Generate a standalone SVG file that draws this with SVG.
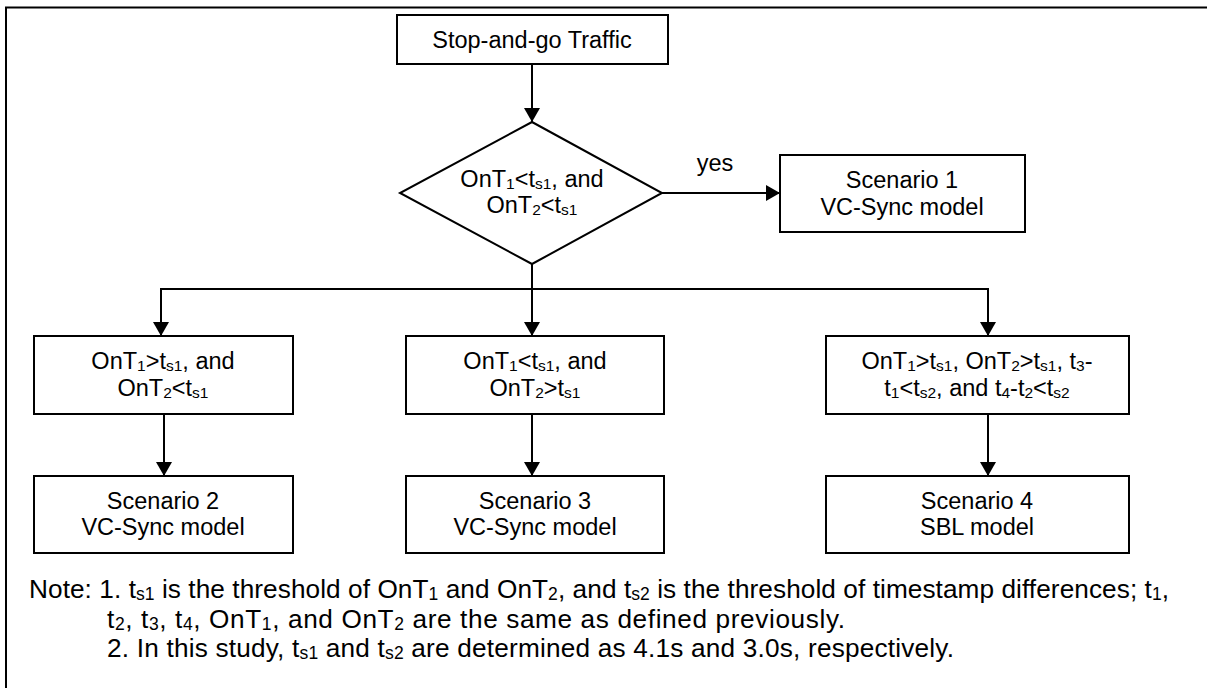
<svg xmlns="http://www.w3.org/2000/svg" width="1207" height="688" viewBox="0 0 1207 688">
<style>
text{font-family:"Liberation Sans",Arial,sans-serif;font-size:23.5px;fill:#000}
.c{text-anchor:middle}
.s{font-size:15.5px}
.n{font-size:26.2px}
.n .s{font-size:17.5px}
.box{fill:#fff;stroke:#000;stroke-width:2}
.ln{fill:none;stroke:#000;stroke-width:2}
</style>
<defs>
<marker id="ah" markerUnits="userSpaceOnUse" viewBox="0 0 14 16" refX="14" refY="8" markerWidth="14" markerHeight="16" orient="auto">
<path d="M0,0 L14,8 L0,16 z" fill="#000"/>
</marker>
</defs>
<rect width="1207" height="688" fill="#fff"/>
<path class="ln" d="M6,688 V7.5 H1207"/>

<g id="connectors">
<path class="ln" d="M532,64 V122" marker-end="url(#ah)"/>
<path class="ln" d="M662,193 H780" marker-end="url(#ah)"/>
<path class="ln" d="M532,264 V336" marker-end="url(#ah)"/>
<path class="ln" d="M161,289 H988"/>
<path class="ln" d="M161,288 V336" marker-end="url(#ah)"/>
<path class="ln" d="M988,288 V336" marker-end="url(#ah)"/>
<path class="ln" d="M164,414 V476" marker-end="url(#ah)"/>
<path class="ln" d="M532,414 V476" marker-end="url(#ah)"/>
<path class="ln" d="M988,414 V476" marker-end="url(#ah)"/>
<text id="yes" class="c" x="715" y="171">yes</text>
</g>

<g id="start">
<rect class="box" x="397" y="15" width="271" height="49"/>
<text class="c" x="532" y="48">Stop-and-go Traffic</text>
</g>

<g id="decision">
<path class="box" d="M532,122 L662,193 L532,264 L400,193 z"/>
<text class="c" x="532" y="187">OnT<tspan class="s" dy="2">1</tspan><tspan dy="-2">&lt;t</tspan><tspan class="s" dy="2">s1</tspan><tspan dy="-2">, and</tspan></text>
<text class="c" x="532" y="213">OnT<tspan class="s" dy="2">2</tspan><tspan dy="-2">&lt;t</tspan><tspan class="s" dy="2">s1</tspan></text>
</g>

<g id="scenario1">
<rect class="box" x="780" y="155" width="245" height="77"/>
<text class="c" x="902" y="188">Scenario 1</text>
<text class="c" x="902" y="215">VC-Sync model</text>
</g>

<g id="cond2">
<rect class="box" x="34" y="336" width="259" height="78"/>
<text class="c" x="163" y="369">OnT<tspan class="s" dy="2">1</tspan><tspan dy="-2">&gt;t</tspan><tspan class="s" dy="2">s1</tspan><tspan dy="-2">, and</tspan></text>
<text class="c" x="163" y="396">OnT<tspan class="s" dy="2">2</tspan><tspan dy="-2">&lt;t</tspan><tspan class="s" dy="2">s1</tspan></text>
</g>

<g id="cond3">
<rect class="box" x="406" y="336" width="258" height="78"/>
<text class="c" x="535" y="369">OnT<tspan class="s" dy="2">1</tspan><tspan dy="-2">&lt;t</tspan><tspan class="s" dy="2">s1</tspan><tspan dy="-2">, and</tspan></text>
<text class="c" x="535" y="396">OnT<tspan class="s" dy="2">2</tspan><tspan dy="-2">&gt;t</tspan><tspan class="s" dy="2">s1</tspan></text>
</g>

<g id="cond4">
<rect class="box" x="826" y="336" width="303" height="78"/>
<text class="c" x="977" y="369">OnT<tspan class="s" dy="2">1</tspan><tspan dy="-2">&gt;t</tspan><tspan class="s" dy="2">s1</tspan><tspan dy="-2">, OnT</tspan><tspan class="s" dy="2">2</tspan><tspan dy="-2">&gt;t</tspan><tspan class="s" dy="2">s1</tspan><tspan dy="-2">, t</tspan><tspan class="s" dy="2">3</tspan><tspan dy="-2">-</tspan></text>
<text class="c" x="977" y="396">t<tspan class="s" dy="2">1</tspan><tspan dy="-2">&lt;t</tspan><tspan class="s" dy="2">s2</tspan><tspan dy="-2">, and t</tspan><tspan class="s" dy="2">4</tspan><tspan dy="-2">-t</tspan><tspan class="s" dy="2">2</tspan><tspan dy="-2">&lt;t</tspan><tspan class="s" dy="2">s2</tspan></text>
</g>

<g id="scenario2">
<rect class="box" x="34" y="476" width="259" height="77"/>
<text class="c" x="163" y="509">Scenario 2</text>
<text class="c" x="163" y="535">VC-Sync model</text>
</g>

<g id="scenario3">
<rect class="box" x="406" y="476" width="258" height="77"/>
<text class="c" x="535" y="509">Scenario 3</text>
<text class="c" x="535" y="535">VC-Sync model</text>
</g>

<g id="scenario4">
<rect class="box" x="826" y="476" width="303" height="77"/>
<text class="c" x="977" y="509">Scenario 4</text>
<text class="c" x="977" y="535">SBL model</text>
</g>

<g id="note">
<text class="n" x="29" y="598" textLength="1140" lengthAdjust="spacing">Note: 1. t<tspan class="s" dy="2">s1</tspan><tspan dy="-2"> is the threshold of OnT</tspan><tspan class="s" dy="2">1</tspan><tspan dy="-2"> and OnT</tspan><tspan class="s" dy="2">2</tspan><tspan dy="-2">, and t</tspan><tspan class="s" dy="2">s2</tspan><tspan dy="-2"> is the threshold of timestamp differences; t</tspan><tspan class="s" dy="2">1</tspan><tspan dy="-2">,</tspan></text>
<text class="n" x="107" y="628" textLength="738" lengthAdjust="spacing">t<tspan class="s" dy="2">2</tspan><tspan dy="-2">, t</tspan><tspan class="s" dy="2">3</tspan><tspan dy="-2">, t</tspan><tspan class="s" dy="2">4</tspan><tspan dy="-2">, OnT</tspan><tspan class="s" dy="2">1</tspan><tspan dy="-2">, and OnT</tspan><tspan class="s" dy="2">2</tspan><tspan dy="-2"> are the same as defined previously.</tspan></text>
<text class="n" x="107" y="657" textLength="847" lengthAdjust="spacing">2. In this study, t<tspan class="s" dy="2">s1</tspan><tspan dy="-2"> and t</tspan><tspan class="s" dy="2">s2</tspan><tspan dy="-2"> are determined as 4.1s and 3.0s, respectively.</tspan></text>
</g>
</svg>
